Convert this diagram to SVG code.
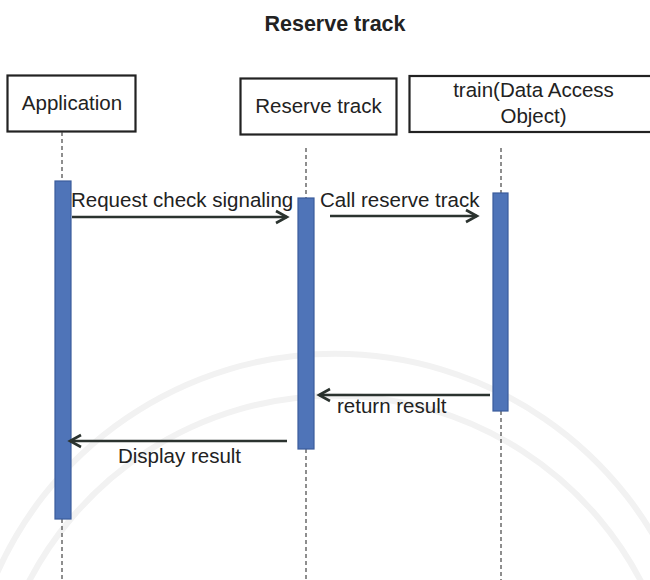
<svg xmlns="http://www.w3.org/2000/svg" width="650" height="580" viewBox="0 0 650 580">
  <defs>
    <style>
      .lbl { font-family: "Liberation Sans", Arial, sans-serif; font-size: 20.5px; fill: #222; }
      .title { font-family: "Liberation Sans", Arial, sans-serif; font-size: 21.5px; font-weight: bold; fill: #222; }
      .box { fill: #fff; stroke: #222; stroke-width: 2.2; }
      .life { stroke: #444; stroke-width: 1.2; stroke-dasharray: 4 3; fill: none; }
      .bar { fill: #4f74b8; stroke: #3b5c9c; stroke-width: 1.2; }
      .msg { stroke: #2b332f; stroke-width: 2.6; fill: none; marker-end: url(#arr); }
      .wm { fill: none; stroke: #f2f2f2; stroke-width: 6; }
    </style>
    <marker id="arr" markerUnits="userSpaceOnUse" markerWidth="16" markerHeight="16" refX="12" refY="7" orient="auto" viewBox="0 0 16 14">
      <path d="M1,1 L12,7 L1,13" fill="none" stroke="#2b332f" stroke-width="2.6" stroke-linejoin="miter"/>
    </marker>
  </defs>
  <rect x="0" y="0" width="650" height="580" fill="#fff"/>

  <g id="watermark">
    <path class="wm" d="M-10,590 A370,370 0 0 1 680,590"/>
    <path class="wm" d="M20,600 A345,345 0 0 1 650,600"/>
  </g>

  <text class="title" x="335" y="31" text-anchor="middle">Reserve track</text>

  <g id="application">
    <rect class="box" x="7.5" y="75.5" width="128" height="56"/>
    <text class="lbl" x="72" y="110" text-anchor="middle">Application</text>
    <line class="life" x1="62" y1="132" x2="62" y2="181"/>
    <line class="life" x1="62" y1="519" x2="62" y2="580"/>
    <rect class="bar" x="55" y="181" width="16" height="338"/>
  </g>

  <g id="reserve-track">
    <rect class="box" x="240.5" y="78.5" width="156" height="56"/>
    <text class="lbl" x="318.5" y="112.5" text-anchor="middle">Reserve track</text>
    <line class="life" x1="306" y1="148" x2="306" y2="198"/>
    <line class="life" x1="306" y1="449" x2="306" y2="580"/>
    <rect class="bar" x="298" y="198" width="16" height="251"/>
  </g>

  <g id="train-dao">
    <rect class="box" x="409.5" y="76" width="260" height="56"/>
    <text class="lbl" x="533.5" y="97" text-anchor="middle">train(Data Access</text>
    <text class="lbl" x="533.5" y="123" text-anchor="middle">Object)</text>
    <line class="life" x1="501" y1="148" x2="501" y2="193"/>
    <line class="life" x1="501" y1="411" x2="501" y2="580"/>
    <rect class="bar" x="493" y="193" width="15" height="218"/>
  </g>

  <g id="connectors">
    <line class="msg" x1="72" y1="217" x2="287" y2="217"/>
    <text class="lbl" x="71" y="207">Request check signaling</text>
    <line class="msg" x1="330" y1="216" x2="477" y2="216"/>
    <text class="lbl" x="320" y="207">Call reserve track</text>
    <line class="msg" x1="490" y1="395" x2="319" y2="395"/>
    <text class="lbl" x="337" y="413">return result</text>
    <line class="msg" x1="287" y1="441" x2="70" y2="441"/>
    <text class="lbl" x="118" y="463">Display result</text>
  </g>
</svg>
